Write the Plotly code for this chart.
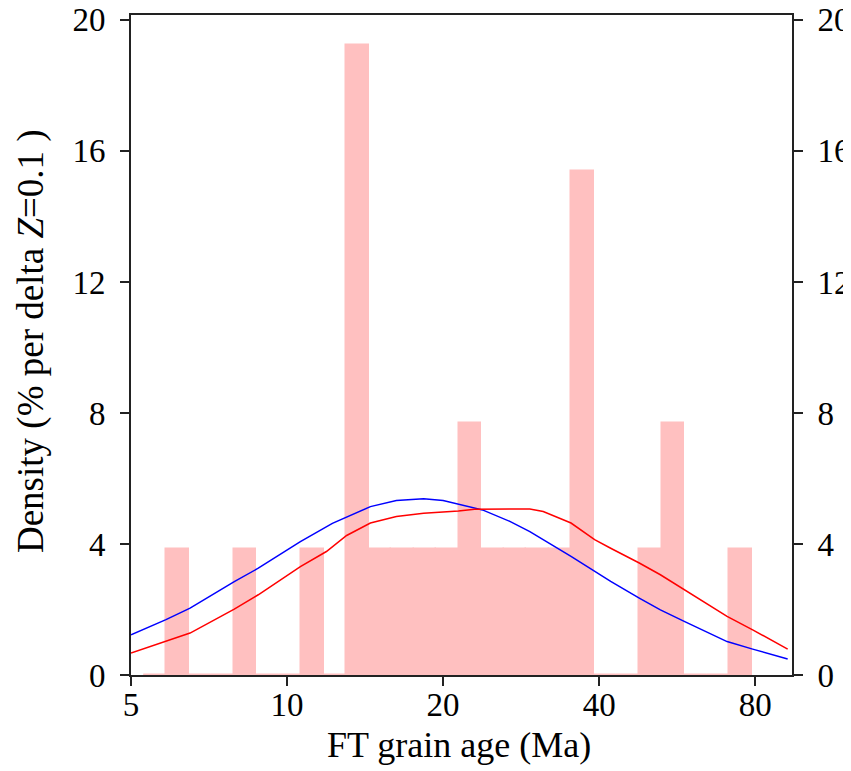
import numpy as np
import plotly.graph_objects as go

# Histogram bins (grain age, Ma) and density (% per delta z = 0.1)
bin_edges_ma = [5.29, 5.85, 6.46, 7.14, 7.89, 8.72, 9.64, 10.65, 11.78, 13.01,
                14.38, 15.89, 17.57, 19.41, 21.46, 23.71, 26.21, 28.96, 32.01,
                35.37, 39.09, 43.20, 47.75, 52.77, 58.32, 64.45, 71.23, 78.72]
bin_density = [0, 3.85, 0, 0, 3.85, 0, 0, 3.85, 0, 19.23, 3.85, 3.85, 3.85, 3.85,
               7.69, 3.85, 3.85, 3.85, 3.85, 15.38, 0, 0, 3.85, 7.69, 0, 0, 3.85]

# Blue curve
blue_age = [5.0, 5.84, 6.50, 7.91, 8.80, 10.61, 12.23, 14.48, 16.25, 18.34, 20.0,
            21.41, 23.82, 26.9, 29.4, 35.3, 39.2, 42.1, 47.8, 52.5, 58.5, 70.6,
            79.1, 92.4]
blue_val = [1.23, 1.69, 2.04, 2.85, 3.26, 4.07, 4.63, 5.14, 5.33, 5.38, 5.33,
            5.22, 5.04, 4.69, 4.38, 3.62, 3.16, 2.86, 2.35, 1.99, 1.63, 1.02,
            0.79, 0.49]

# Red curve
red_age = [5.0, 5.84, 6.50, 7.91, 8.80, 10.61, 11.91, 13.03, 14.48, 16.25, 18.34,
           21.41, 23.0, 29.4, 31.2, 35.3, 39.2, 42.1, 47.8, 52.5, 58.5, 70.6,
           79.1, 92.4]
red_val = [0.67, 1.02, 1.28, 2.01, 2.45, 3.31, 3.77, 4.26, 4.64, 4.84, 4.94,
           5.01, 5.06, 5.07, 4.99, 4.64, 4.13, 3.87, 3.42, 3.06, 2.60, 1.79,
           1.38, 0.79]

x_ticks = [5, 10, 20, 40, 80]
y_ticks = [0, 4, 8, 12, 16, 20]
x_limits = [5, 94.2]
y_limits = [0, 20.15]

PINK = "rgb(255,192,192)"
FONT = "Liberation Serif"

le = np.log10(bin_edges_ma)
centers = (le[:-1] + le[1:]) / 2
widths = np.diff(le)

fig = go.Figure()
fig.add_trace(go.Bar(x=centers, y=bin_density, width=widths,
                     marker=dict(color=PINK, line=dict(color=PINK, width=1.5)),
                     showlegend=False, hoverinfo="skip"))
# zero baseline of the histogram
fig.add_trace(go.Scatter(x=[le[0], le[-1]], y=[0, 0], mode="lines",
                         line=dict(color=PINK, width=2), showlegend=False))
fig.add_trace(go.Scatter(x=np.log10(blue_age), y=blue_val, mode="lines",
                         line=dict(color="blue", width=1.5), showlegend=False))
fig.add_trace(go.Scatter(x=np.log10(red_age), y=red_val, mode="lines",
                         line=dict(color="red", width=1.5), showlegend=False))
# invisible trace for right axis
fig.add_trace(go.Scatter(x=[le[0]], y=[0], yaxis="y2", mode="markers",
                         marker=dict(opacity=0), showlegend=False, hoverinfo="skip"))

axis_common = dict(showgrid=False, zeroline=False, ticks="outside", ticklen=9,
                   tickwidth=1.5, tickcolor="#222", linecolor="#222", linewidth=2,
                   automargin=False, ticklabeloverflow="allow",
                   tickfont=dict(family=FONT, size=33, color="black"))

# page body adds an 8px offset, so the figure is 8px smaller than the window
fig.update_layout(
    template="none",
    width=843, height=763,
    margin=dict(l=123, r=59, t=7, b=96, autoexpand=False),
    paper_bgcolor="white", plot_bgcolor="white",
    bargap=0,
    xaxis=dict(range=list(np.log10(x_limits)), tickvals=list(np.log10(x_ticks)),
               ticktext=[str(t) for t in x_ticks], showline=True, mirror=True,
               layer="below traces", ticklabelstandoff=-10, **axis_common),
    yaxis=dict(range=y_limits, tickvals=y_ticks, showline=True,
               layer="below traces", ticklabelstandoff=8, **axis_common),
    yaxis2=dict(range=y_limits, tickvals=y_ticks, overlaying="y", side="right",
                showline=True, ticklabelstandoff=8, **axis_common),
    annotations=[
        dict(text="FT grain age (Ma)", xref="paper", yref="paper", x=0.496, y=-0.106,
             xanchor="center", yanchor="middle", showarrow=False,
             font=dict(family=FONT, size=36, color="black")),
        dict(text="Density (% per delta <i>Z</i>=0.1 )", xref="paper", yref="paper",
             x=-0.1513, y=0.506, textangle=-90, xanchor="center", yanchor="middle",
             showarrow=False, font=dict(family=FONT, size=37, color="black")),
    ],
)

fig.write_html("out.html")
